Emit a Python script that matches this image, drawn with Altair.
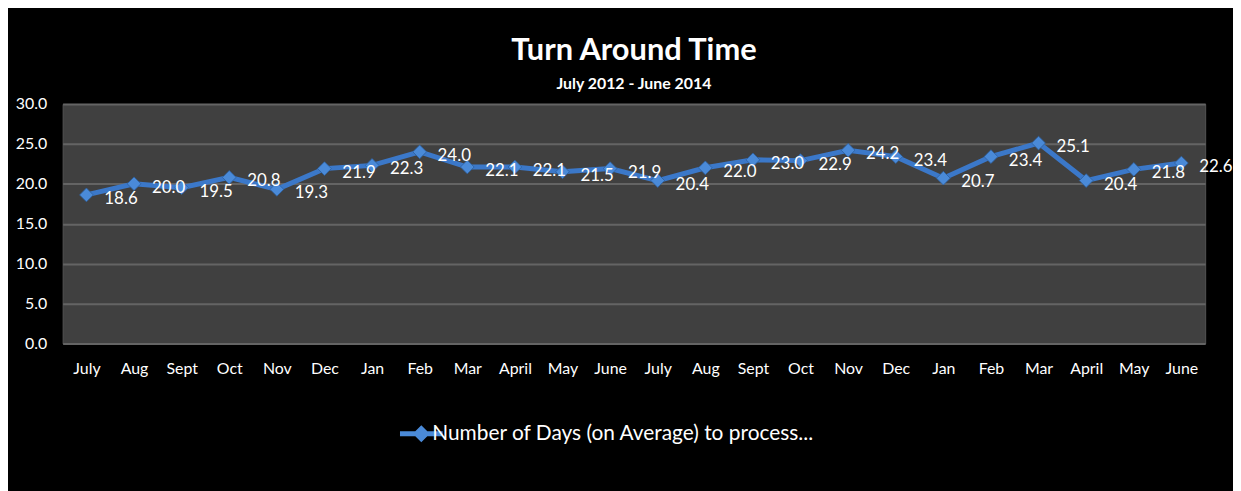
import altair as alt
import pandas as pd

months = ["July", "Aug", "Sept", "Oct", "Nov", "Dec", "Jan", "Feb", "Mar", "April", "May", "June",
          "July", "Aug", "Sept", "Oct", "Nov", "Dec", "Jan", "Feb", "Mar", "April", "May", "June"]
days = [18.6, 20.0, 19.5, 20.8, 19.3, 21.9, 22.3, 24.0, 22.1, 22.1, 21.5, 21.9,
        20.4, 22.0, 23.0, 22.9, 24.2, 23.4, 20.7, 23.4, 25.1, 20.4, 21.8, 22.6]
series_name = "Number of Days (on Average) to process..."
y_ticks = [0, 5, 10, 15, 20, 25, 30]

df = pd.DataFrame({
    "key": [f"{m}|{i}" for i, m in enumerate(months)],
    "days": days,
    "series": [series_name] * len(days),
})
order = list(df["key"])

FONT = "Lato"
BLUE_LINE = "#3b78c9"
BLUE_PT = "#4a8ad8"

x_enc = alt.X("key:N", sort=order, title=None,
              scale=alt.Scale(type="point", padding=0.5),
              axis=alt.Axis(labelExpr="split(datum.label, '|')[0]", labelAngle=0,
                            labelColor="white", labelFontSize=16, labelFont=FONT,
                            labelPadding=17, ticks=False, domain=False, grid=False))
y_enc = alt.Y("days:Q", title=None,
              scale=alt.Scale(domain=[0, 30], nice=False),
              axis=alt.Axis(values=y_ticks, format=".1f", labelColor="white",
                            labelFontSize=16, labelFont=FONT, labelPadding=16,
                            ticks=False, domain=False, gridColor="#646464",
                            gridWidth=2))

base = alt.Chart(df)

line = base.mark_line(color=BLUE_LINE, strokeWidth=5).encode(x=x_enc, y=y_enc)

legend_symbol = "M-2,-0.24H2V0.24H-2Z M0,-0.8L0.8,0L0,0.8L-0.8,0Z"

points = base.mark_point(shape="diamond", filled=True, size=190, opacity=1,
                         stroke="#2c5f9e", strokeWidth=0.8).encode(
    x=x_enc, y=y_enc,
    color=alt.Color("series:N", title=None,
                    scale=alt.Scale(domain=[series_name], range=[BLUE_PT]),
                    legend=alt.Legend(orient="none", legendX=350, legendY=321,
                                      symbolType=legend_symbol, symbolSize=460,
                                      symbolStrokeWidth=0, labelColor="white",
                                      labelFontSize=21, labelFont=FONT,
                                      labelLimit=700, labelOffset=0)),
)

labels = base.mark_text(align="left", baseline="middle", dx=18, dy=4,
                        color="white", fontSize=17, font=FONT).encode(
    x=x_enc, y=y_enc, text=alt.Text("days:Q", format=".1f"))

chart = alt.layer(line, points, labels).properties(
    width=1150, height=241,
    title=alt.Title("Turn Around Time", subtitle="July 2012 - June 2014",
                    anchor="middle", color="white", fontSize=31, font=FONT,
                    fontWeight="bold", subtitleColor="white", subtitleFontSize=16,
                    subtitleFont=FONT, subtitleFontWeight="bold", offset=3,
                    subtitlePadding=9),
    autosize=alt.AutoSizeParams(type="none"),
    padding={"left": 55, "top": 95, "right": 28, "bottom": 147},
    background="black",
).configure_view(fill="#404040", stroke="#555555", strokeWidth=1)

chart.save("out.html", embed_options={"renderer": "svg", "actions": False})
